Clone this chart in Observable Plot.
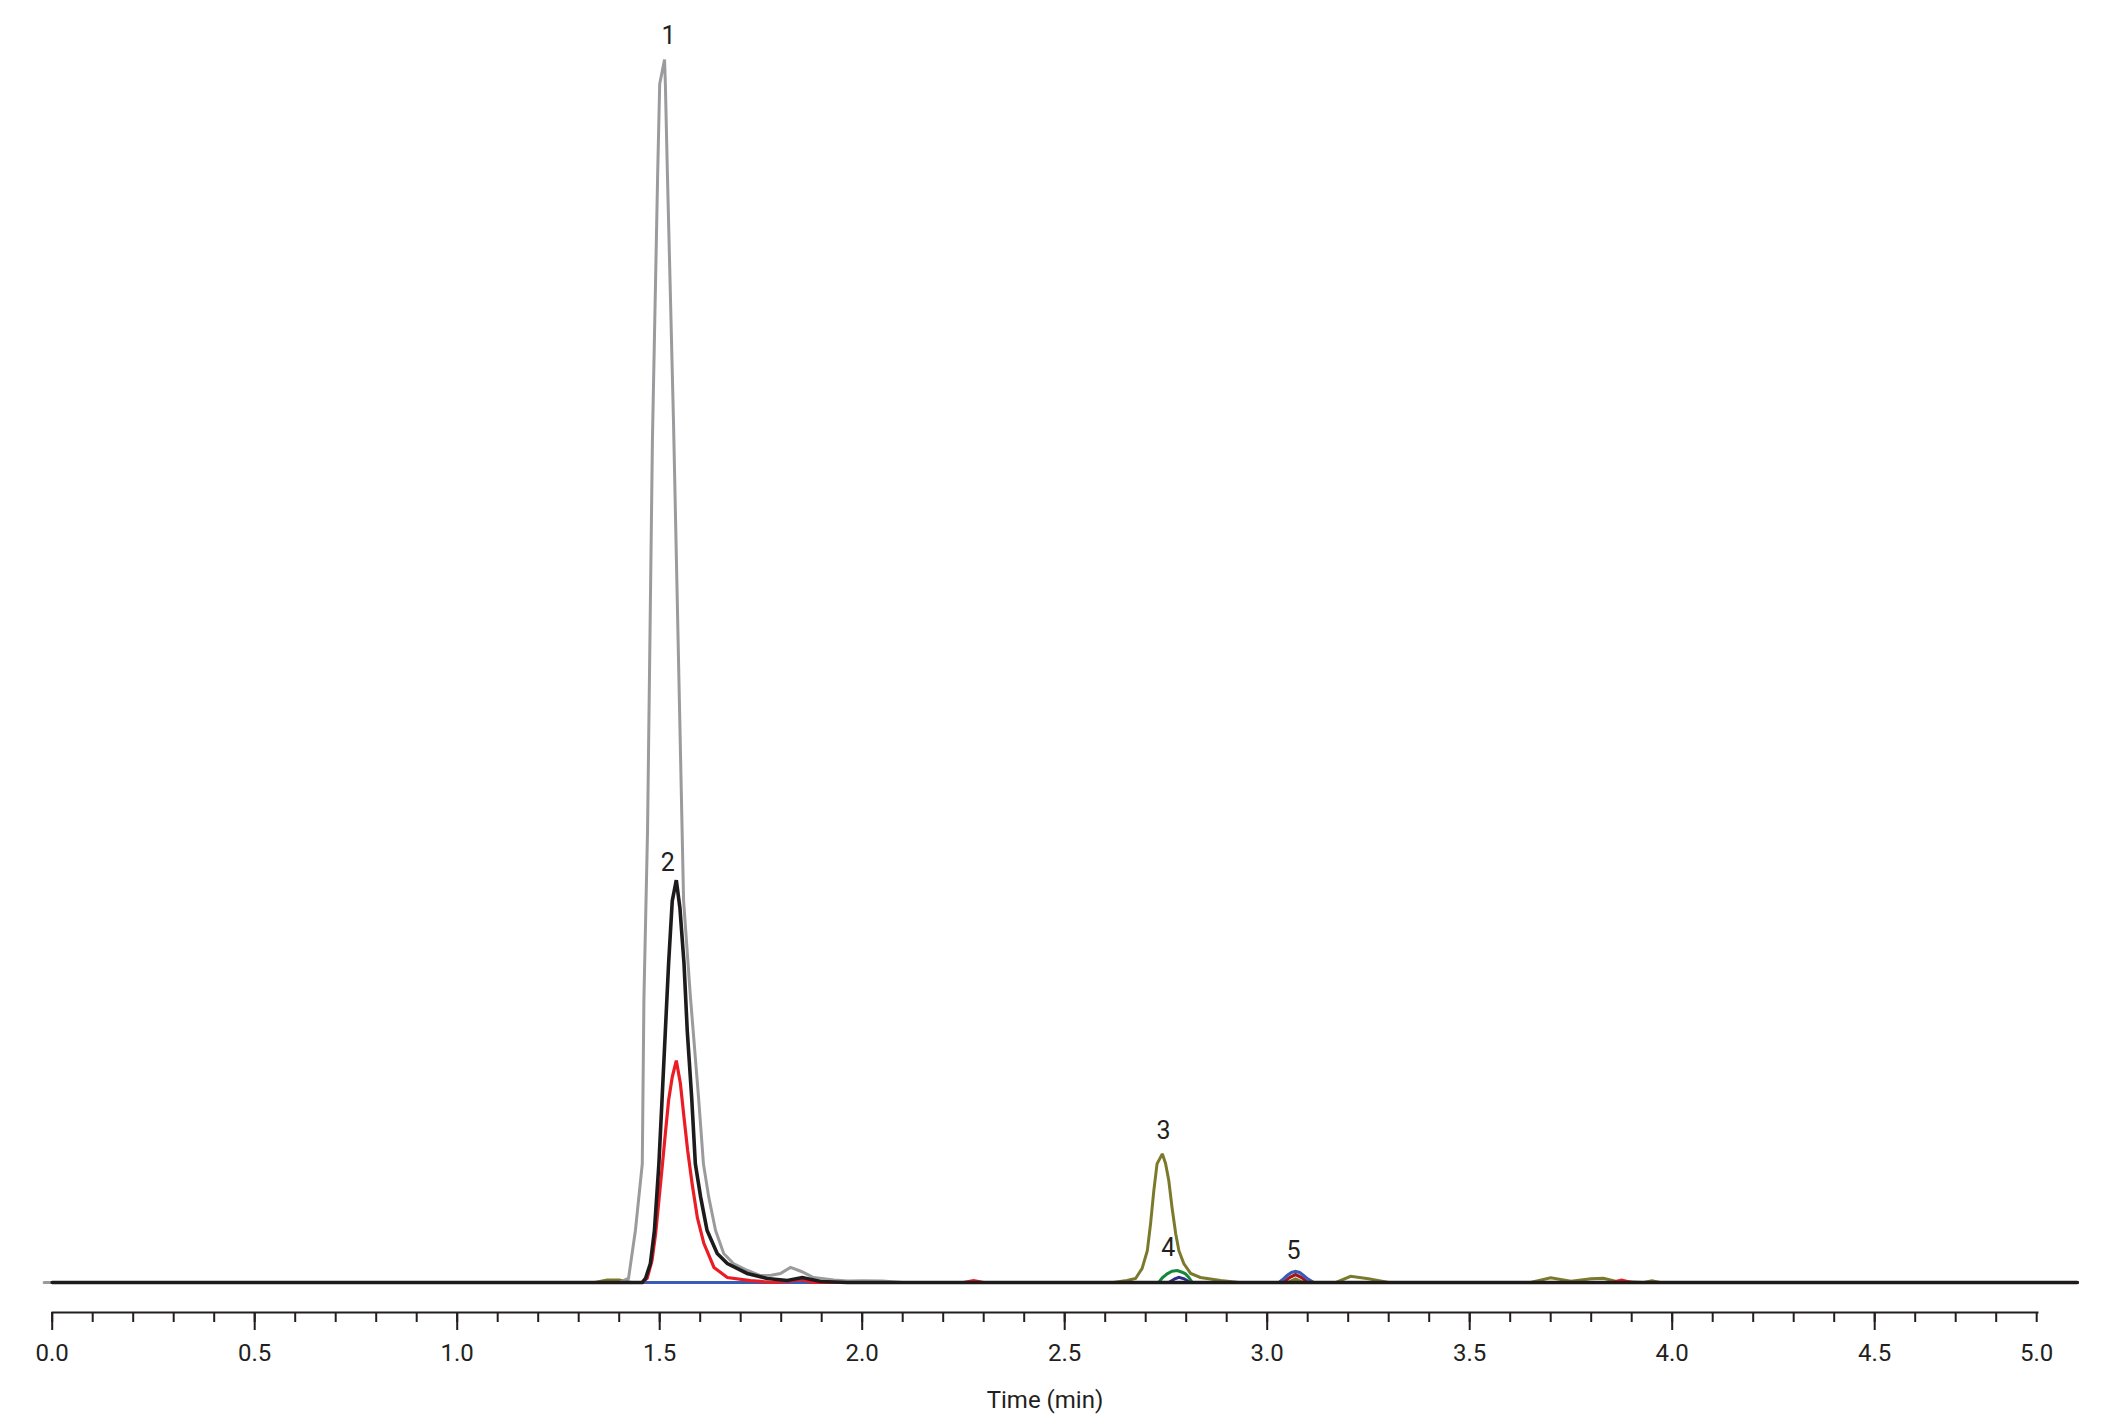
<!DOCTYPE html>
<html>
<head>
<meta charset="utf-8">
<script src="https://cdn.jsdelivr.net/npm/d3@7"></script>
<script src="https://cdn.jsdelivr.net/npm/@observablehq/plot@0.6"></script>
<style>
html,body{margin:0;padding:0;background:#fff;overflow:hidden}
</style>
</head>
<body>
<div id="chart"></div>
<script>
// ---- Data (time in min, relative intensity) ----
const grayT = [-0.02, 1.40, 1.423, 1.440, 1.457, 1.461, 1.470, 1.482, 1.495, 1.500, 1.512, 1.514, 1.519, 1.534, 1.559, 1.576, 1.596, 1.608, 1.621, 1.638, 1.658, 1.682, 1.717, 1.749, 1.775, 1.798, 1.823, 1.850, 1.880, 1.930, 1.964, 2.00, 2.05, 2.10, 5.0];
const grayV = [0, 0, 0.33, 4.25, 9.7, 23.1, 37.0, 68.8, 90.7, 98.0, 100, 98.0, 90.7, 70.5, 31.2, 23.3, 15.1, 9.7, 7.0, 4.25, 2.37, 1.55, 0.98, 0.57, 0.6, 0.74, 1.23, 0.9, 0.41, 0.2, 0.12, 0.15, 0.12, 0, 0];

const blackT = [0, 1.457, 1.465, 1.477, 1.487, 1.498, 1.506, 1.514, 1.522, 1.531, 1.541, 1.550, 1.560, 1.568, 1.579, 1.588, 1.601, 1.617, 1.642, 1.667, 1.716, 1.765, 1.815, 1.852, 1.897, 1.963, 5.0];
const blackV = [0, 0, 0.33, 1.55, 4.25, 9.7, 15.1, 20.6, 26.1, 31.2, 32.9, 30.6, 26.1, 20.6, 15.1, 9.7, 7.0, 4.25, 2.37, 1.55, 0.74, 0.33, 0.16, 0.41, 0.08, 0, 0];

const redT = [0, 1.457, 1.469, 1.481, 1.490, 1.498, 1.506, 1.514, 1.522, 1.531, 1.541, 1.551, 1.560, 1.569, 1.580, 1.593, 1.609, 1.634, 1.667, 1.724, 1.781, 1.820, 1.848, 1.880, 2.25, 2.275, 2.30, 3.85, 3.875, 3.90, 5.0];
const redV = [0, 0, 0.33, 1.8, 4.0, 6.7, 9.4, 12.2, 14.9, 16.8, 18.15, 16.3, 13.5, 10.8, 8.1, 5.3, 3.2, 1.23, 0.41, 0.16, 0, 0.1, 0.25, 0, 0, 0.15, 0, 0, 0.2, 0, 0];

const oliveT = [0, 1.34, 1.37, 1.40, 1.43, 2.62, 2.654, 2.675, 2.691, 2.704, 2.712, 2.720, 2.728, 2.741, 2.749, 2.757, 2.765, 2.774, 2.782, 2.794, 2.811, 2.835, 2.885, 2.93, 3.05, 3.07, 3.09, 3.17, 3.206, 3.25, 3.30, 3.65, 3.70, 3.75, 3.80, 3.83, 3.86, 3.93, 3.95, 3.97, 5.0];
const oliveV = [0, 0, 0.2, 0.2, 0, 0, 0.16, 0.33, 1.14, 2.6, 4.8, 7.5, 9.7, 10.52, 9.73, 8.34, 6.13, 4.0, 2.6, 1.55, 0.74, 0.41, 0.16, 0, 0, 0.3, 0, 0, 0.5, 0.3, 0, 0, 0.38, 0.1, 0.3, 0.35, 0.1, 0, 0.15, 0, 0];

const greenT = [0, 2.732, 2.741, 2.753, 2.765, 2.778, 2.790, 2.798, 2.806, 2.815, 5.0];
const greenV = [0, 0, 0.38, 0.71, 0.92, 0.98, 0.84, 0.71, 0.43, 0, 0];

const navyT = [0, 2.757, 2.772, 2.782, 2.795, 2.810, 5.0];
const navyV = [0, 0, 0.3, 0.43, 0.3, 0, 0];

const blueT = [0, 3.029, 3.040, 3.049, 3.060, 3.070, 3.080, 3.090, 3.100, 3.115, 5.0];
const blueV = [0, 0, 0.3, 0.57, 0.82, 0.92, 0.82, 0.57, 0.3, 0, 0];

const darkRedT = [0, 3.040, 3.055, 3.070, 3.085, 3.100, 5.0];
const darkRedV = [0, 0, 0.4, 0.65, 0.4, 0, 0];

// drawing order: bottom to top
const seriesNames = ["navy", "green", "darkRed", "olive", "blue", "red", "gray", "black"];
const seriesT = [navyT, greenT, darkRedT, oliveT, blueT, redT, grayT, blackT];
const seriesV = [navyV, greenV, darkRedV, oliveV, blueV, redV, grayV, blackV];
const seriesColors = ["#2e2a86", "#14893c", "#a3161f", "#7b7a2c", "#3a5cb4", "#ec1c24", "#9b9b9e", "#1e1b1c"];
const seriesWidths = [3, 3, 3, 3, 3, 3.2, 3, 3.6];

// peak labels
const peakLabels = ["1", "2", "3", "4", "5"];
const peakLabelT = [1.522, 1.520, 2.744, 2.756, 3.065];
const peakLabelV = [101.9, 34.3, 12.4, 2.8, 2.6];

// axis
const minorTicks = d3.range(0, 50).map(i => i / 10);
const majorTicks = [0, 0.5, 1.0, 1.5, 2.0, 2.5, 3.0, 3.5, 4.0, 4.5];
const tickLabelPos = [0, 0.5, 1.0, 1.5, 2.0, 2.5, 3.0, 3.5, 4.0, 4.5, 4.9];
const tickLabels = ["0.0", "0.5", "1.0", "1.5", "2.0", "2.5", "3.0", "3.5", "4.0", "4.5", "5.0"];
const xTitle = "Time (min)";

// ---- Build ----
const lineMarks = seriesNames.map((name, k) =>
  Plot.line(seriesT[k].map((t, i) => ({t, v: seriesV[k][i]})), {
    x: "t", y: "v", stroke: seriesColors[k], strokeWidth: seriesWidths[k],
    strokeLinejoin: "miter", strokeMiterlimit: 2
  })
);
const labelRows = peakLabels.map((s, i) => ({s, t: peakLabelT[i], v: peakLabelV[i]}));

const chart = Plot.plot({
  width: 2111,
  height: 1427,
  marginLeft: 52,
  marginRight: 74,
  marginTop: 0,
  marginBottom: 115,
  x: {domain: [0, 5], range: [51.7, 2076.7]},
  y: {domain: [0, 100], range: [1282, 59], axis: null},
  style: {fontFamily: "Roboto, 'Noto Sans', sans-serif", fontSize: "24px", color: "#231f20", background: "#fff", overflow: "visible"},
  marks: [
    ...lineMarks,
    Plot.text(labelRows, {x: "t", y: "v", text: "s", fontSize: 25, fill: "#231f20"}),
    Plot.frame({anchor: "bottom", stroke: "#231f20", strokeWidth: 2}),
    Plot.axisX(minorTicks, {anchor: "bottom", tickSize: 10, tickFormat: () => "", label: null, strokeWidth: 2}),
    Plot.axisX(majorTicks, {anchor: "bottom", tickSize: 18, tickFormat: () => "", label: null, strokeWidth: 2}),
    Plot.axisX(tickLabelPos, {anchor: "bottom", tickSize: 0, tickPadding: 31, label: null,
      tickFormat: d => tickLabels[tickLabelPos.indexOf(d)]}),
    Plot.text([xTitle], {frameAnchor: "bottom", dy: 95, fontSize: 24, fill: "#231f20"})
  ]
});
document.getElementById("chart").appendChild(chart);
</script>
</body>
</html>
